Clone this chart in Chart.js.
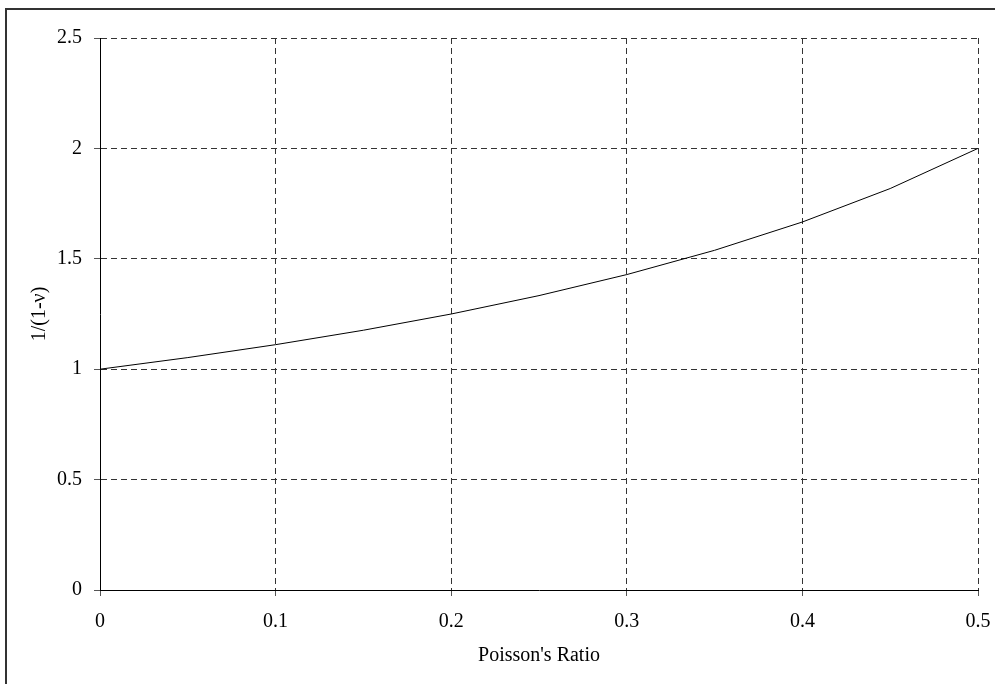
<!DOCTYPE html>
<html>
<head>
<meta charset="utf-8">
<script src="https://cdn.jsdelivr.net/npm/chart.js@4"></script>
<style>
  html, body { margin: 0; padding: 0; background: #fff; }
  #wrap { width: 995px; height: 684px; }
</style>
</head>
<body>
<div id="wrap"><canvas id="c" width="995" height="684"></canvas></div>
<script>
// Poisson's ratio samples and the factor 1/(1-v)
const poissonRatio = [0, 0.05, 0.1, 0.15, 0.2, 0.25, 0.3, 0.35, 0.4, 0.45, 0.5];
const factor = [1.0, 1.0526, 1.1111, 1.1765, 1.25, 1.3333, 1.4286, 1.5385, 1.6667, 1.8182, 2.0];

// Axis tick labels
const xTickLabels = ["0", "0.1", "0.2", "0.3", "0.4", "0.5"];
const yTickLabels = ["0", "0.5", "1", "1.5", "2", "2.5"];

const xTitle = "Poisson's Ratio";
const yTitle = "1/(1-\u03BD)";

const points = poissonRatio.map((x, i) => ({ x: x, y: factor[i] }));

// frame around the whole figure
const frame = {
  id: 'frame',
  beforeDraw(chart) {
    const ctx = chart.ctx;
    ctx.save();
    ctx.fillStyle = '#fff';
    ctx.fillRect(0, 0, chart.width, chart.height);
    ctx.strokeStyle = '#333';
    ctx.lineWidth = 2;
    ctx.strokeRect(6, 9, 1200, 900);
    ctx.restore();
  }
};

const font = { family: "'Liberation Serif', 'Times New Roman', serif", size: 20 };

new Chart(document.getElementById('c'), {
  type: 'line',
  data: {
    datasets: [{
      data: points,
      borderColor: '#000',
      borderWidth: 1,
      pointRadius: 0,
      tension: 0,
      fill: false
    }]
  },
  options: {
    responsive: false,
    animation: false,
    layout: { padding: { top: 38, right: 17, left: 0, bottom: 0 } },
    plugins: { legend: { display: false }, tooltip: { enabled: false } },
    scales: {
      x: {
        type: 'linear',
        min: 0, max: 0.5,
        afterFit(s) { s.height = 94; s.paddingLeft = 0; s.paddingRight = 0; },
        afterBuildTicks(s) { s.ticks = xTickLabels.map(t => ({ value: parseFloat(t) })); },
        ticks: {
          color: '#000', font: font, padding: 14, maxRotation: 0,
          callback: (v, i) => xTickLabels[i]
        },
        grid: { color: '#333', lineWidth: 1, tickLength: 6, tickColor: '#555', tickWidth: 1 },
        border: { display: true, color: '#000', width: 1, dash: [6, 4] },
        title: { display: true, text: xTitle, color: '#000', font: font, padding: { top: 0, bottom: 16 } }
      },
      y: {
        type: 'linear',
        min: 0, max: 2.5,
        afterFit(s) { s.width = 100; s.paddingTop = 0; s.paddingBottom = 0; },
        afterBuildTicks(s) { s.ticks = yTickLabels.map(t => ({ value: parseFloat(t) })); },
        ticks: {
          color: '#000', font: font, padding: 12,
          callback: (v, i) => yTickLabels[i]
        },
        grid: { color: '#333', lineWidth: 1, tickLength: 6, tickColor: '#555', tickWidth: 1 },
        border: { display: true, color: '#000', width: 1, dash: [6, 4] },
        title: { display: true, text: yTitle, color: '#000', font: font, padding: { top: 28, bottom: 0 } }
      }
    }
  },
  plugins: [frame]
});
</script>
</body>
</html>
